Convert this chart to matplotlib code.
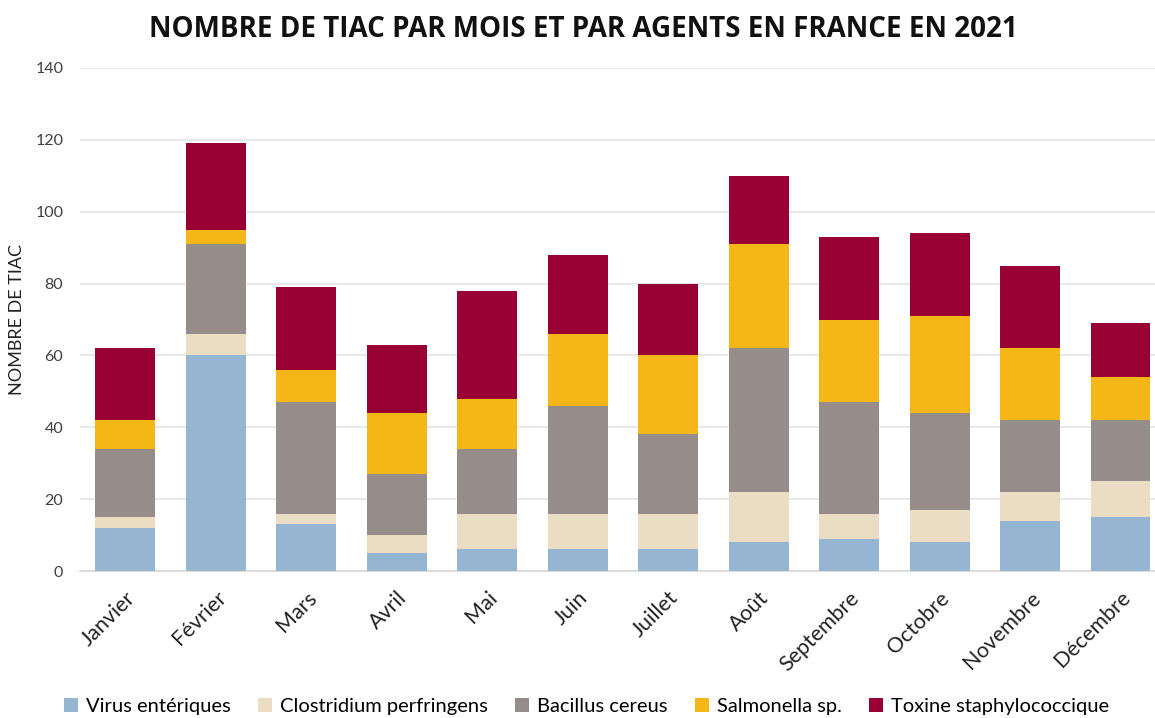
import matplotlib.pyplot as plt
import numpy as np

mois = ["Janvier", "Février", "Mars", "Avril", "Mai", "Juin", "Juillet",
        "Août", "Septembre", "Octobre", "Novembre", "Décembre"]

virus = [12, 60, 13, 5, 6, 6, 6, 8, 9, 8, 14, 15]
clostridium = [3, 6, 3, 5, 10, 10, 10, 14, 7, 9, 8, 10]
bacillus = [19, 25, 31, 17, 18, 30, 22, 40, 31, 27, 20, 17]
salmonella = [8, 4, 9, 17, 14, 20, 22, 29, 23, 27, 20, 12]
toxine = [20, 24, 23, 19, 30, 22, 20, 19, 23, 23, 23, 15]

series = [
    ("Virus entériques", virus, "#95b5d3"),
    ("Clostridium perfringens", clostridium, "#eaddc3"),
    ("Bacillus cereus", bacillus, "#968c8a"),
    ("Salmonella sp.", salmonella, "#f5b618"),
    ("Toxine staphylococcique", toxine, "#990033"),
]

plt.rcParams['font.family'] = ['Lato', 'DejaVu Sans']

fig = plt.figure(figsize=(11.55, 7.18), dpi=100)
ax = fig.add_axes([0.0693, 0.2047, 0.9307, 0.7006])

x = np.arange(len(mois))
bottom = np.zeros(len(mois))
for name, vals, color in series:
    ax.bar(x, vals, 0.66, bottom=bottom, color=color, label=name, zorder=3)
    bottom += np.array(vals)

ax.set_ylim(0, 140)
ax.set_xlim(-0.5, 11.38)
ax.set_yticks(range(0, 141, 20))
ax.yaxis.grid(True, color="#e4e4e4", linewidth=1.2, zorder=0)
ax.set_axisbelow(True)
for s in ["top", "right", "left"]:
    ax.spines[s].set_visible(False)
ax.spines["bottom"].set_color("#d9d9d9")
ax.spines["bottom"].set_linewidth(1.2)
ax.tick_params(axis="both", length=0)
ax.tick_params(axis="y", labelsize=11.5, colors="#404040", pad=12)
ax.set_xticks(x)
ax.set_xticklabels(mois, rotation=45, ha="right", rotation_mode="anchor",
                   fontsize=15.5, color="#222222")
ax.tick_params(axis="x", pad=12)
ax.set_ylabel("NOMBRE DE TIAC", fontsize=13, color="#222222")
ax.yaxis.set_label_coords(-0.051, 0.5)

fig.text(0.505, 0.959, "NOMBRE DE TIAC PAR MOIS ET PAR AGENTS EN FRANCE EN 2021",
         ha="center", va="center", fontsize=20, fontweight="bold",
         family=["Open Sans", "DejaVu Sans"], color="#111111")

fig.legend(loc="center", bbox_to_anchor=(0.508, 0.016), ncol=5, frameon=False,
           fontsize=14.5, handlelength=0.7, handleheight=0.7, handletextpad=0.4,
           columnspacing=1.35, borderaxespad=0)

fig.savefig("out.png", dpi=100)
